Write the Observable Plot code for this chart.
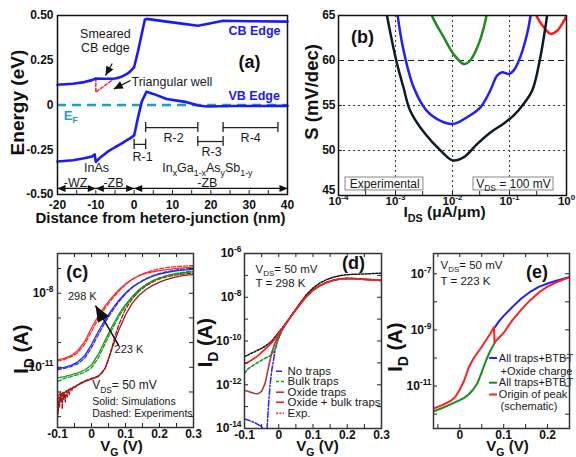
<!DOCTYPE html>
<html><head><meta charset="utf-8">
<script src="https://cdn.jsdelivr.net/npm/d3@7"></script>
<script src="https://cdn.jsdelivr.net/npm/@observablehq/plot@0.6"></script>
<style>
html,body{margin:0;padding:0;background:#fff;}
#wrap{position:relative;width:576px;height:457px;overflow:hidden;background:#fff;}
#wrap svg{position:absolute;left:0;top:0;}
</style></head><body><div id="wrap"></div>
<script>
// ================= DATA =================
// ---- Panel (a): band edges vs distance (nm), energy (eV)
const aCbX = [-20,-16,-13,-11,-10,-8,-6,-5,-4,-3,-2,-1,0,1,2,2.8,3.3,8,12,16.6,20,23.2,30,40];
const aCbE = [0.113,0.119,0.128,0.139,0.148,0.147,0.147,0.148,0.153,0.161,0.172,0.188,0.212,0.30,0.40,0.478,0.481,0.467,0.456,0.443,0.457,0.471,0.468,0.466];
const aVbX = [-20,-16,-13,-11,-10.3,-10,-9,-7,-5,-3,-2,-1,0,1,2,3.2,5,8.5,13.7,16.8,19,26,40];
const aVbE = [-0.316,-0.309,-0.298,-0.288,-0.276,-0.318,-0.296,-0.262,-0.236,-0.212,-0.198,-0.185,-0.17,-0.07,0.02,0.074,0.062,0.034,0.016,-0.003,-0.008,-0.006,-0.005];
const aTriX = [-10,-10,-5.2];
const aTriE = [0.15,0.072,0.148];
const aBrkLabel = ["R-1","R-2","R-3","R-4"];
const aBrkX1 = [0,3,16.6,23.2];
const aBrkX2 = [3,16.6,23.2,37.5];
const aBrkE = [-0.22,-0.126,-0.204,-0.126];
const aBrkLabelX = [2.2,10.3,20.2,30.4];
const aBrkLabelE = [-0.288,-0.187,-0.265,-0.187];
const aSpanX1 = [-20,-10,0];
const aSpanX2 = [-10,0,40];
const aSpanLabel = ["-WZ","-ZB","-ZB"];
const aSpanLabelX = [-15.3,-5.4,19.1];
const aMatLabel = ["InAs","In_{x}Ga_{1-x}As_{y}Sb_{1-y}"];
const aMatX = [-9.8,19.1];
const aXTicks = [-20,-10,0,10,20,30,40];
const aXMinor = [-20,-15,-10,-5,0,5,10,15,20,25,30,35,40];
const aYTicks = [0.5,0.25,0,-0.25,-0.5];

// ---- Panel (b): S (mV/dec) vs log10 I_DS (uA/um)
const bBlackLX = [-3.22,-3.15,-2.987,-2.86,-2.74,-2.48,-2.21,-2.0,-1.80,-1.57,-1.335,-1.10,-0.925,-0.75,-0.60,-0.47,-0.34,-0.31];
const bBlackS  = [67.5,65,60,57,54.4,51.85,50,48.9,49.26,50.7,52,53,53.9,55.2,56.7,60,65,66.5];
const bBlueLX = [-2.99,-2.963,-2.858,-2.68,-2.45,-2.21,-1.98,-1.745,-1.51,-1.335,-1.22,-1.13,-1.01,-0.925,-0.81,-0.69,-0.63,-0.61];
const bBlueS  = [66.5,65,61.1,57.0,54.4,53.3,52.96,53.7,54.8,56.7,58.3,58.7,58.5,58.9,60.4,63,65,66];
const bGreenLX = [-2.40,-2.36,-2.155,-1.98,-1.80,-1.69,-1.54,-1.45,-1.405,-1.39];
const bGreenS  = [66.5,65,62.6,60.7,59.6,60,61.85,63.7,65,66];
const bRedLX = [-0.56,-0.527,-0.398,-0.28,-0.164,-0.076,0,0.02];
const bRedS  = [66,65,63.7,62.96,63.3,64.07,65,65.6];
const bXTicks = [1e-4,1e-3,1e-2,1e-1,1];
const bXMinor = [1e-4,3e-4,1e-3,3e-3,1e-2,3e-2,1e-1,3e-1,1];
const bYTicks = [50,55,60,65];
const bYBottomTick = [45];
const bYMinor = [45,50,55,60,65];
const bBoxText = ["Experimental","V_{DS} = 100 mV"];
const bBoxLX1 = [-3.877,-1.632];
const bBoxLX2 = [-2.509,-0.228];
const bBoxLXc = [-3.19,-0.93];

// ---- Panel (c): log10 I_D (A) vs V_G (V), four temperatures
const cV = [-0.1,-0.08,-0.06,-0.04,-0.02,0,0.02,0.04,0.06,0.08,0.1,0.12,0.14,0.16,0.18,0.2,0.22,0.24,0.26,0.28,0.3];
const c298Sim = [-10.70,-10.64,-10.53,-10.32,-9.96,-9.41,-8.91,-8.51,-8.17,-7.87,-7.62,-7.43,-7.29,-7.19,-7.13,-7.08,-7.04,-7.01,-6.98,-6.96,-6.94];
const c298Exp = [-10.75,-10.68,-10.58,-10.40,-10.06,-9.55,-9.02,-8.60,-8.24,-7.92,-7.65,-7.44,-7.28,-7.16,-7.07,-7.01,-6.96,-6.93,-6.91,-6.89,-6.88];
const c273Sim = [-11.05,-11.00,-10.92,-10.78,-10.53,-10.08,-9.55,-9.08,-8.66,-8.29,-7.99,-7.75,-7.57,-7.43,-7.31,-7.23,-7.16,-7.11,-7.07,-7.05,-7.03];
const c273Exp = [-11.10,-11.04,-10.97,-10.85,-10.63,-10.20,-9.68,-9.18,-8.74,-8.35,-8.03,-7.77,-7.57,-7.41,-7.29,-7.20,-7.13,-7.08,-7.04,-7.01,-6.99];
const c248Sim = [-11.43,-11.38,-11.31,-11.23,-11.11,-10.91,-10.47,-9.91,-9.36,-8.86,-8.46,-8.13,-7.85,-7.65,-7.50,-7.39,-7.31,-7.24,-7.20,-7.16,-7.13];
const c248Exp = [-11.58,-11.45,-11.38,-11.30,-11.20,-11.02,-10.62,-10.05,-9.47,-8.95,-8.52,-8.17,-7.88,-7.66,-7.50,-7.38,-7.29,-7.22,-7.17,-7.13,-7.10];
const c223Sim = [-12.15,-12.02,-11.86,-11.72,-11.58,-11.48,-11.38,-11.05,-10.25,-9.50,-8.88,-8.40,-8.08,-7.85,-7.68,-7.55,-7.45,-7.37,-7.31,-7.27,-7.24];
const c223ExpV = [-0.1,-0.098,-0.096,-0.094,-0.092,-0.09,-0.088,-0.086,-0.084,-0.082,-0.08,-0.077,-0.074,-0.071,-0.068,-0.065,-0.062,-0.058,-0.054,-0.05,-0.045,-0.04,-0.03,-0.02,-0.01,0,0.01,0.02,0.03,0.04,0.05,0.06,0.07,0.08,0.09,0.1,0.12,0.14,0.16,0.18,0.2,0.22,0.24,0.26,0.28,0.3];
const c223Exp = [-12.3,-12.9,-12.2,-12.6,-12.0,-12.4,-12.1,-12.7,-12.0,-12.3,-12.05,-12.4,-11.95,-12.2,-11.9,-12.1,-11.85,-11.95,-11.8,-11.85,-11.75,-11.7,-11.62,-11.55,-11.5,-11.45,-11.4,-11.35,-11.25,-11.05,-10.7,-10.2,-9.7,-9.3,-8.95,-8.65,-8.22,-7.92,-7.7,-7.54,-7.42,-7.34,-7.28,-7.24,-7.21,-7.19];
const cXTicks = [-0.1,0,0.1,0.2,0.3];
const cXMinor = [-0.1,-0.05,0,0.05,0.1,0.15,0.2,0.25,0.3];
const cYTicks = [1e-8,1e-11];
const cYMinor = [1e-13,1e-12,1e-11,1e-10,1e-9,1e-8,1e-7];

// ---- Panel (d): log10 I_D (A) vs V_G (V), trap models
const dV = [-0.1,-0.09,-0.08,-0.07,-0.06,-0.05,-0.04,-0.03,-0.02,-0.01,0,0.01,0.02,0.03,0.04,0.06,0.08,0.1,0.12,0.14,0.16,0.18,0.2,0.22,0.24,0.26,0.28,0.3];
const dOxBulk = [-11.04,-10.97,-10.88,-10.78,-10.66,-10.52,-10.37,-10.22,-10.07,-9.88,-9.64,-9.43,-9.22,-9.0,-8.78,-8.36,-7.97,-7.68,-7.47,-7.32,-7.22,-7.16,-7.14,-7.15,-7.17,-7.19,-7.21,-7.23];
const dBulk = [-11.47,-11.28,-11.16,-11.07,-10.97,-10.88,-10.79,-10.72,-10.62,-10.35,-9.85,-9.5,-9.24,-9.0,-8.78,-8.36,-7.97,-7.68,-7.47,-7.32,-7.22,-7.16,-7.14,-7.15,-7.17,-7.19,-7.21,-7.23];
const dOxide = [-12.26,-12.3,-12.35,-12.4,-12.41,-12.3,-11.95,-11.2,-10.5,-10.05,-9.72,-9.46,-9.23,-9.0,-8.78,-8.36,-7.97,-7.68,-7.47,-7.32,-7.22,-7.16,-7.14,-7.15,-7.17,-7.19,-7.21,-7.23];
const dExp = [-10.71,-10.64,-10.56,-10.49,-10.41,-10.33,-10.24,-10.13,-9.99,-9.8,-9.6,-9.4,-9.2,-8.99,-8.77,-8.32,-7.9,-7.58,-7.35,-7.19,-7.08,-7.01,-6.97,-6.95,-6.94,-6.93,-6.91,-6.9];
const dNoV = [-0.1,-0.09,-0.08,-0.07,-0.06,-0.05,-0.045,-0.04,-0.035,-0.03,-0.025,-0.02,-0.015,-0.01,-0.005,0,0.01,0.02,0.03,0.04,0.06,0.08,0.1,0.12,0.14,0.16,0.18,0.2,0.22,0.24,0.26,0.28,0.3];
const dNoTraps = [-13.56,-13.61,-13.67,-13.74,-13.82,-13.92,-14.05,-14.3,-14.2,-12.95,-11.95,-11.3,-10.85,-10.35,-10.05,-9.85,-9.5,-9.24,-9.0,-8.78,-8.36,-7.97,-7.68,-7.47,-7.32,-7.22,-7.16,-7.14,-7.15,-7.17,-7.19,-7.21,-7.23];
const dLegend = ["No traps","Bulk traps","Oxide traps","Oxide + bulk traps","Exp."];
const dLegendLog = [-11.38,-11.85,-12.34,-12.80,-13.30];
const dYTicks = [1e-6,1e-8,1e-10,1e-12,1e-14];
const dYMinor = [1e-14,1e-13,1e-12,1e-11,1e-10,1e-9,1e-8,1e-7,1e-6];

// ---- Panel (e): log10 I_D (A) vs V_G (V), 223 K
const eGreenV = [-0.06,-0.04,-0.02,0,0.01,0.02,0.03,0.04,0.05,0.06,0.07,0.08];
const eGreen = [-11.9,-11.78,-11.64,-11.5,-11.42,-11.3,-11.13,-10.9,-10.5,-10.08,-9.72,-9.45];
const eBlueV = [0.08,0.09,0.1,0.12,0.14,0.16,0.18,0.2,0.22,0.24,0.25];
const eBlue = [-8.9,-8.68,-8.5,-8.18,-7.88,-7.65,-7.47,-7.35,-7.25,-7.16,-7.12];
const eRedV = [-0.06,-0.04,-0.02,-0.01,0,0.01,0.02,0.03,0.04,0.05,0.06,0.07,0.078,0.079,0.09,0.1,0.12,0.14,0.16,0.18,0.2,0.22,0.24,0.25];
const eRed = [-11.8,-11.68,-11.52,-11.38,-11.12,-10.8,-10.35,-10.05,-9.82,-9.6,-9.36,-9.12,-8.9,-9.45,-9.27,-9.1,-8.65,-8.28,-7.95,-7.67,-7.46,-7.31,-7.18,-7.13];
const eLegend = ["All traps+BTBT","+Oxide charge","All traps+BTBT","Origin of peak","(schematic)"];
const eLegendLog = [-10.0,-10.48,-10.88,-11.30,-11.71];
const eXTicks = [0,0.1,0.2];
const eXMinor = [-0.05,0,0.05,0.1,0.15,0.2,0.25];
const eYTicks = [1e-7,1e-9,1e-11];
const eYMinor = [1e-12,1e-11,1e-10,1e-9,1e-8,1e-7];

// ================= HELPERS =================
const W = 576, H = 457;
const FONT = "Arial, 'Liberation Sans', Helvetica, sans-serif";
const NS = "http://www.w3.org/2000/svg";
const ROT = "§R§"; // marks a label to be turned upright after rendering
const wrap = document.getElementById("wrap");
const p10 = a => a.map(v => Math.pow(10, v));
const idx = a => a.map((_, i) => i);
const pow10Fmt = d => `10^{${Math.round(Math.log10(d))}}`;

function headMarker(len, wid) {
  return (color) => {
    const m = document.createElementNS(NS, "marker");
    m.setAttribute("viewBox", `${-len} ${-wid/2} ${len} ${wid}`);
    m.setAttribute("markerWidth", len);
    m.setAttribute("markerHeight", wid);
    m.setAttribute("markerUnits", "userSpaceOnUse");
    m.setAttribute("orient", "auto-start-reverse");
    m.setAttribute("overflow", "visible");
    const p = document.createElementNS(NS, "path");
    p.setAttribute("d", `M${-len},${-wid/2}L0,0L${-len},${wid/2}Z`);
    p.setAttribute("fill", color);
    p.setAttribute("stroke", "none");
    m.appendChild(p);
    return m;
  };
}
let MARK_OK = true;
try { Plot.plot({marks: [Plot.link([0], {x1: 0, y1: 0, x2: 1, y2: 1, markerEnd: headMarker(8, 6)})]}); }
catch (e) { MARK_OK = false; }
const head = (l, w) => MARK_OK ? headMarker(l, w) : "arrow";

function richify(svg) {
  svg.querySelectorAll("text").forEach(n => {
    if (n.querySelector("tspan")) return;
    let s = n.textContent;
    let rot = false;
    if (s.startsWith(ROT)) { rot = true; s = s.slice(ROT.length); n.textContent = s; }
    if (/[_^]\{/.test(s)) {
      const fs = parseFloat(getComputedStyle(n).fontSize) || 12;
      const re = /([_^])\{([^}]*)\}/g;
      const parts = []; let last = 0, m;
      while ((m = re.exec(s))) {
        if (m.index > last) parts.push({t: s.slice(last, m.index), k: 0});
        parts.push({t: m[2], k: m[1] === "_" ? 1 : -1});
        last = re.lastIndex;
      }
      if (last < s.length) parts.push({t: s.slice(last), k: 0});
      n.textContent = "";
      let cur = 0;
      for (const p of parts) {
        const ts = document.createElementNS(NS, "tspan");
        const target = p.k === 1 ? 0.28 * fs : p.k === -1 ? -0.42 * fs : 0;
        if (target !== cur) { ts.setAttribute("dy", (target - cur).toFixed(2)); cur = target; }
        if (p.k) ts.setAttribute("font-size", (0.7 * fs).toFixed(1));
        ts.style.whiteSpace = "pre";
        ts.textContent = p.t;
        n.appendChild(ts);
      }
    }
    if (rot) {
      const b = n.getBBox();
      const cx = b.x + b.width / 2, cy = b.y + b.height / 2;
      const tr = n.getAttribute("transform") || "";
      n.setAttribute("transform", `${tr} rotate(-90 ${cx.toFixed(2)} ${cy.toFixed(2)})`.trim());
    }
  });
}

function panel(frame, scales, marks) {
  const [x0, x1, y0, y1] = frame;
  const svg = Plot.plot({
    width: W, height: H,
    marginLeft: x0, marginRight: W - x1, marginTop: y0, marginBottom: H - y1,
    style: {background: "transparent", fontFamily: FONT, fontSize: "12px", fontWeight: "bold", color: "#111", overflow: "visible"},
    ...scales,
    marks
  });
  wrap.appendChild(svg);
  richify(svg);
}
function ticksX(vals, fh, len, both) {
  const m = [Plot.tickX(vals, {x: d => d, insetTop: fh - len, stroke: "#222", strokeWidth: 1})];
  if (both) m.push(Plot.tickX(vals, {x: d => d, insetBottom: fh - len, stroke: "#222", strokeWidth: 1}));
  return m;
}
function ticksY(vals, fw, len, both) {
  const m = [Plot.tickY(vals, {y: d => d, insetRight: fw - len, stroke: "#222", strokeWidth: 1})];
  if (both) m.push(Plot.tickY(vals, {y: d => d, insetLeft: fw - len, stroke: "#222", strokeWidth: 1}));
  return m;
}
const yLabel = (text, dx, dy, fontSize) => Plot.text([ROT + text], {frameAnchor: "left", textAnchor: "middle", lineAnchor: "middle", dx, dy, fontSize, fontWeight: "bold", fill: "#111"});
const xLabel = (text, dx, dy, fontSize) => Plot.text([text], {frameAnchor: "bottom", textAnchor: "middle", lineAnchor: "middle", dx, dy, fontSize, fontWeight: "bold", fill: "#111"});
const norm = {fontWeight: "normal", fill: "#1a1a1a"};

// ================= PANEL (a) =================
{
  const F = [57, 287, 15, 194];
  const BLUE = "#1a1aff", TEAL = "#1fa0c8";
  const aTxt = (text, x, y, o = {}) => Plot.text([text], {x, y, fontSize: 12.5, ...norm, ...o});
  panel(F, {x: {domain: [-20, 40]}, y: {domain: [-0.5, 0.5]}}, [
    Plot.ruleY([0], {stroke: TEAL, strokeWidth: 2.5, strokeDasharray: "9,6"}),
    Plot.line(aTriX, {x: aTriX, y: aTriE, stroke: "#ff2020", strokeWidth: 1.5, strokeDasharray: "3,2"}),
    Plot.line(aCbX, {x: aCbX, y: aCbE, stroke: BLUE, strokeWidth: 2.6}),
    Plot.line(aVbX, {x: aVbX, y: aVbE, stroke: BLUE, strokeWidth: 2.6}),
    Plot.ruleY(idx(aBrkX1), {y: aBrkE, x1: aBrkX1, x2: aBrkX2, stroke: "#222", strokeWidth: 1.3}),
    Plot.ruleX(idx(aBrkX1).concat(idx(aBrkX1)), {x: aBrkX1.concat(aBrkX2), y1: aBrkE.concat(aBrkE).map(v => v - 0.028), y2: aBrkE.concat(aBrkE).map(v => v + 0.028), stroke: "#222", strokeWidth: 1.3}),
    Plot.text(aBrkLabel, {x: aBrkLabelX, y: aBrkLabelE, fontSize: 12.5, ...norm}),
    Plot.link(idx(aSpanX1), {x1: aSpanX1, x2: aSpanX2, y1: -0.466, y2: -0.466, stroke: "#111", strokeWidth: 1.2, markerStart: head(8, 7), markerEnd: head(8, 7)}),
    Plot.text(aSpanLabel, {x: aSpanLabelX, y: -0.438, fontSize: 12.5, ...norm}),
    Plot.text(aMatLabel, {x: aMatX, y: -0.352, fontSize: 12.5, ...norm}),
    aTxt("Smeared", -7.5, 0.399),
    aTxt("CB edge", -7.5, 0.321),
    aTxt("Triangular well", -0.7, 0.131, {textAnchor: "start"}),
    Plot.link([0], {x1: -5.73, y1: 0.232, x2: -7.48, y2: 0.165, stroke: "#111", strokeWidth: 1.2, markerEnd: head(9, 8)}),
    Plot.link([0], {x1: -0.96, y1: 0.137, x2: -5.31, y2: 0.09, stroke: "#111", strokeWidth: 1.2, markerEnd: head(9, 8)}),
    Plot.text(["CB Edge"], {x: 24.6, y: 0.411, textAnchor: "start", fill: BLUE, fontSize: 12.5, fontWeight: "bold"}),
    Plot.text(["VB Edge"], {x: 24.6, y: 0.053, textAnchor: "start", fill: BLUE, fontSize: 12.5, fontWeight: "bold"}),
    Plot.text(["(a)"], {x: 30.1, y: 0.237, fontSize: 18, fontWeight: "bold", fill: "#111"}),
    Plot.text(["E_{F}"], {x: -18.4, y: -0.059, textAnchor: "start", fill: TEAL, fontSize: 13, fontWeight: "bold"}),
    Plot.axisX({ticks: aXTicks, tickSize: 0, tickPadding: 6, tickFormat: d => String(d), label: null}),
    Plot.axisY({ticks: aYTicks, tickSize: 0, tickPadding: 4, tickFormat: d => d === 0 ? "0" : d.toFixed(2), label: null}),
    ...ticksX(aXMinor, F[3] - F[2], 4, false),
    xLabel("Distance from hetero-junction (nm)", -12, 24, 15),
    yLabel("Energy (eV)", -40, -2, 19),
    Plot.frame({stroke: "#111", strokeWidth: 1.5})
  ]);
}

// ================= PANEL (b) =================
{
  const F = [338, 566, 15, 195];
  panel(F, {x: {type: "log", domain: [1e-4, 1]}, y: {domain: [45, 65]}}, [
    Plot.ruleX([1e-3, 1e-2, 1e-1], {stroke: "#333", strokeWidth: 1, strokeDasharray: "2,3"}),
    Plot.ruleY([50, 55], {stroke: "#333", strokeWidth: 1, strokeDasharray: "2,3"}),
    Plot.ruleY([60], {stroke: "#222", strokeWidth: 1.2, strokeDasharray: "6,4"}),
    Plot.line(bGreenS, {x: p10(bGreenLX), y: bGreenS, stroke: "#1f8c1f", strokeWidth: 2.5, curve: "catmull-rom", clip: true}),
    Plot.line(bRedS, {x: p10(bRedLX), y: bRedS, stroke: "#ff1a1a", strokeWidth: 2.5, curve: "catmull-rom", clip: true}),
    Plot.line(bBlueS, {x: p10(bBlueLX), y: bBlueS, stroke: "#1f1fff", strokeWidth: 2.5, curve: "catmull-rom", clip: true}),
    Plot.line(bBlackS, {x: p10(bBlackLX), y: bBlackS, stroke: "#0d1b24", strokeWidth: 2.5, curve: "catmull-rom", clip: true}),
    Plot.rect(idx(bBoxLX1), {x1: p10(bBoxLX1), x2: p10(bBoxLX2), y1: 45.56, y2: 47.0, fill: "white", stroke: "#888", strokeWidth: 1}),
    Plot.text(bBoxText, {x: p10(bBoxLXc), y: 46.28, fontSize: 12, ...norm}),
    Plot.text(["(b)"], {x: Math.pow(10, -3.58), y: 62.56, fontSize: 18, fontWeight: "bold", fill: "#111"}),
    Plot.axisX({ticks: bXTicks, tickSize: 0, tickPadding: 1, tickFormat: pow10Fmt, label: null, fontSize: 11.5}),
    Plot.axisY({ticks: bYTicks, tickSize: 0, tickPadding: 3, tickFormat: d => String(d), label: null}),
    Plot.axisY({ticks: bYBottomTick, tickSize: 0, tickPadding: 3, dy: -5, tickFormat: d => String(d), label: null}),
    ...ticksX(bXMinor, F[3] - F[2], 4, false),
    ...ticksY(bYMinor, F[1] - F[0], 4, false),
    xLabel("I_{DS} (μA/μm)", -8, 17, 15.5),
    yLabel("S (mV/dec)", -27, -13, 18.5),
    Plot.frame({stroke: "#111", strokeWidth: 1.5})
  ]);
}

// ================= PANEL (c) =================
{
  const F = [57, 193, 253, 427];
  const series = [
    [c223Sim, "#a01818", null], [c223Exp, "#a01818", "4,2", c223ExpV],
    [c248Sim, "#1a9a1a", null], [c248Exp, "#1a9a1a", "4,2"],
    [c273Sim, "#2a2aff", null], [c273Exp, "#2a2aff", "4,2"],
    [c298Sim, "#ff2a2a", null], [c298Exp, "#ff2a2a", "4,2"]
  ];
  panel(F, {x: {domain: [-0.1, 0.3]}, y: {type: "log", domain: [Math.pow(10, -13.44), Math.pow(10, -6.39)]}}, [
    ...series.map(([ys, c, dash, xs]) => Plot.line(ys, {x: xs || cV, y: p10(ys), stroke: c, strokeWidth: 1.3, strokeDasharray: dash || undefined, clip: true})),
    Plot.link([0], {x1: 0.0803, y1: Math.pow(10, -10.12), x2: 0.0118, y2: Math.pow(10, -8.5), stroke: "#111", strokeWidth: 1.6, markerEnd: head(16, 13)}),
    Plot.text(["298 K"], {x: -0.027, y: Math.pow(10, -8.13), fontSize: 11, ...norm}),
    Plot.text(["223 K"], {x: 0.11, y: Math.pow(10, -10.29), fontSize: 11, ...norm}),
    Plot.text(["V_{DS}= 50 mV"], {x: 0.002, y: Math.pow(10, -11.74), textAnchor: "start", fontSize: 12, ...norm}),
    Plot.text(["Solid: Simulations"], {x: 0.002, y: Math.pow(10, -12.41), textAnchor: "start", fontSize: 10.5, ...norm}),
    Plot.text(["Dashed: Experiments"], {x: 0.002, y: Math.pow(10, -12.86), textAnchor: "start", fontSize: 10.5, ...norm}),
    Plot.text(["(c)"], {x: -0.042, y: Math.pow(10, -7.15), fontSize: 18, fontWeight: "bold", fill: "#111"}),
    Plot.axisX({ticks: cXTicks, tickSize: 0, tickPadding: 2, tickFormat: d => String(+d.toFixed(1)), label: null}),
    Plot.axisY({ticks: cYTicks, tickSize: 0, tickPadding: 4, tickFormat: pow10Fmt, label: null}),
    ...ticksX(cXMinor, F[3] - F[2], 4, true),
    ...ticksY(cYMinor, F[1] - F[0], 4, true),
    xLabel("V_{G} (V)", -4, 19, 15),
    yLabel("I_{D} (A)", -34, 7, 20),
    Plot.frame({stroke: "#333", strokeWidth: 1.5})
  ]);
}

// ================= PANEL (d) =================
{
  const F = [244, 381, 253, 428];
  const st = [
    {c: "#2424ff", d: "6,2,1.5,2"},
    {c: "#1a9a1a", d: "3,2"},
    {c: "#b03a3a", d: null},
    {c: "#ff1a1a", d: null},
    {c: "#ff2a2a", d: "2,1.5"}
  ];
  const legY = p10(dLegendLog);
  panel(F, {x: {domain: [-0.1, 0.3]}, y: {type: "log", domain: [1e-14, 1e-6]}}, [
    Plot.line(dNoTraps, {x: dNoV, y: p10(dNoTraps), stroke: st[0].c, strokeWidth: 1.5, strokeDasharray: st[0].d, clip: true}),
    Plot.line(dBulk, {x: dV, y: p10(dBulk), stroke: st[1].c, strokeWidth: 1.6, strokeDasharray: st[1].d, clip: true}),
    Plot.line(dOxide, {x: dV, y: p10(dOxide), stroke: st[2].c, strokeWidth: 1.6, clip: true}),
    Plot.line(dExp, {x: dV, y: p10(dExp), stroke: "#111", strokeWidth: 1.5, strokeDasharray: "2,1.5", clip: true}),
    Plot.line(dOxBulk, {x: dV, y: p10(dOxBulk), stroke: st[3].c, strokeWidth: 1.7, clip: true}),
    ...st.map((s, i) => Plot.ruleY([legY[i]], {x1: -0.0066, x2: 0.0168, stroke: s.c, strokeWidth: 1.6, strokeDasharray: s.d || undefined})),
    Plot.text(dLegend, {x: 0.0256, y: legY, textAnchor: "start", fontSize: 11.5, ...norm}),
    Plot.text(["V_{DS}= 50 mV"], {x: -0.068, y: Math.pow(10, -6.73), textAnchor: "start", fontSize: 11.5, ...norm}),
    Plot.text(["T = 298 K"], {x: -0.068, y: Math.pow(10, -7.36), textAnchor: "start", fontSize: 11.5, ...norm}),
    Plot.text(["(d)"], {x: 0.218, y: Math.pow(10, -6.46), fontSize: 18, fontWeight: "bold", fill: "#111"}),
    Plot.axisX({ticks: cXTicks, tickSize: 0, tickPadding: 2, tickFormat: d => String(+d.toFixed(1)), label: null}),
    Plot.axisY({ticks: dYTicks, tickSize: 0, tickPadding: 3, tickFormat: pow10Fmt, label: null}),
    ...ticksX(cXMinor, F[3] - F[2], 4, true),
    ...ticksY(dYMinor, F[1] - F[0], 4, true),
    xLabel("V_{G} (V)", 4.5, 18, 15),
    yLabel("I_{D} (A)", -37, 0, 20),
    Plot.frame({stroke: "#333", strokeWidth: 1.5})
  ]);
}

// ================= PANEL (e) =================
{
  const F = [433, 569, 253, 428];
  const legY = p10(eLegendLog);
  const legColor = ["#2020ff", null, "#1a8a1a", "#ff2020", null];
  const legX = [0.089, 0.093, 0.089, 0.089, 0.093];
  panel(F, {x: {domain: [-0.06, 0.25]}, y: {type: "log", domain: [Math.pow(10, -12.51), Math.pow(10, -6.28)]}}, [
    Plot.line(eBlue, {x: eBlueV, y: p10(eBlue), stroke: "#2020ff", strokeWidth: 2, clip: true}),
    Plot.line(eGreen, {x: eGreenV, y: p10(eGreen), stroke: "#1a8a1a", strokeWidth: 2, clip: true}),
    Plot.line(eRed, {x: eRedV, y: p10(eRed), stroke: "#ff2020", strokeWidth: 2, clip: true}),
    ...legColor.map((c, i) => c ? Plot.ruleY([legY[i]], {x1: 0.068, x2: 0.086, stroke: c, strokeWidth: 2}) : null).filter(Boolean),
    Plot.text(eLegend, {x: legX, y: legY, textAnchor: "start", fontSize: 11, ...norm}),
    Plot.text(["V_{DS}= 50 mV"], {x: -0.044, y: Math.pow(10, -6.71), textAnchor: "start", fontSize: 11.5, ...norm}),
    Plot.text(["T = 223 K"], {x: -0.044, y: Math.pow(10, -7.27), textAnchor: "start", fontSize: 11.5, ...norm}),
    Plot.text(["(e)"], {x: 0.176, y: Math.pow(10, -6.94), fontSize: 18, fontWeight: "bold", fill: "#111"}),
    Plot.axisX({ticks: eXTicks, tickSize: 0, tickPadding: 2, tickFormat: d => String(+d.toFixed(1)), label: null}),
    Plot.axisY({ticks: eYTicks, tickSize: 0, tickPadding: 2, tickFormat: pow10Fmt, label: null}),
    ...ticksX(eXMinor, F[3] - F[2], 4, true),
    ...ticksY(eYMinor, F[1] - F[0], 4, true),
    xLabel("V_{G} (V)", 6, 18, 15),
    yLabel("I_{D} (A)", -36, 4.5, 20),
    Plot.frame({stroke: "#333", strokeWidth: 1.5})
  ]);
}
</script></body></html>
